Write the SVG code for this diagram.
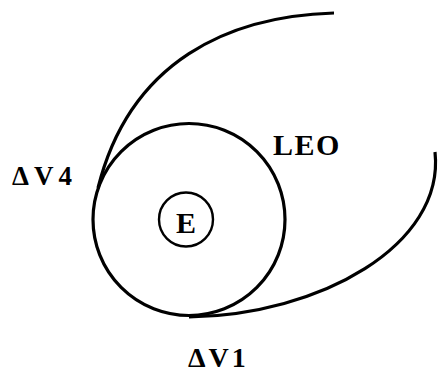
<svg xmlns="http://www.w3.org/2000/svg" width="442" height="381" viewBox="0 0 442 381">
<style>
.orb{fill:none;stroke:#000;stroke-width:3.2}
.lbl{font-family:"Liberation Serif","Times New Roman",serif;font-weight:bold;fill:#000}
</style>
<rect width="442" height="381" fill="#fff"/>
<g id="connectors">
<path class="orb" d="M 334 13 C 230 16 130 60 98 188"/>
<path class="orb" d="M 189 317 C 320 315 445 245 435 152"/>
</g>
<g id="leo">
<circle class="orb" cx="189" cy="219.5" r="96"/>
<text class="lbl" x="273" y="155" font-size="30" letter-spacing="1.5">LEO</text>
</g>
<g id="earth">
<circle cx="186" cy="219.5" r="27" fill="none" stroke="#000" stroke-width="2.4"/>
<text class="lbl" x="186" y="233" font-size="30" text-anchor="middle">E</text>
</g>
<g id="dv4">
<text class="lbl" x="12" y="185" font-size="27" letter-spacing="5">ΔV4</text>
</g>
<g id="dv1">
<text class="lbl" x="188" y="367" font-size="28" letter-spacing="3">ΔV1</text>
</g>
</svg>
